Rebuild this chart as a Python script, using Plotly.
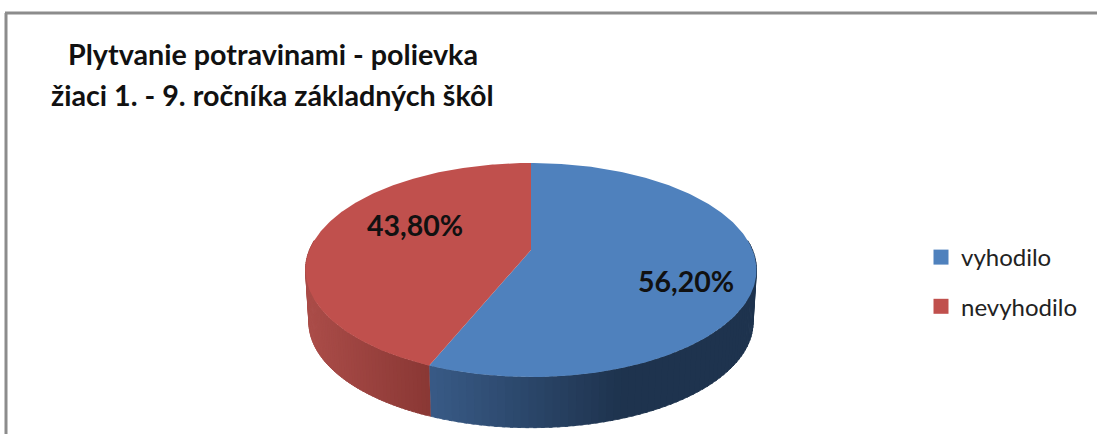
import numpy as np
import plotly.graph_objects as go

# ---- data ----
categories = ["vyhodilo", "nevyhodilo"]
values = [56.20, 43.80]
labels = ["56,20%", "43,80%"]
top_colors = ["#4F81BD", "#C0504D"]
title_lines = ["Plytvanie potravinami - polievka", "žiaci 1. - 9. ročníka základných škôl"]

# ---- projection of the tilted disc onto the 1097x434 pixel axes ----
CX, CY = 531.0, 250.0      # where the pie centre lands
SX, SY = 221.5, 103.3      # radius scale
P = 0.187                  # perspective strength
DEPTH = 52.5               # thickness of the disc
BOTTOM_SCALE = 0.985


def project(theta, depth=0.0, scale=1.0):
    """theta: clockwise angle from 12 o'clock, radians."""
    u, v = np.sin(theta), np.cos(theta)
    w = 1 + P * v
    return CX + scale * SX * u / w, CY - scale * SY * v / w + depth


def mix(a, b, t):
    a, b = np.array(a, float), np.array(b, float)
    c = a + (b - a) * np.clip(t, 0, 1)
    return "rgb(%d,%d,%d)" % tuple(c.round())


def side_color(i, x):
    if i == 0:   # blue slice darkens towards the right, quickly flat
        return mix((56, 90, 134), (30, 51, 78), (x - 430) / 190)
    return mix((170, 76, 72), (137, 55, 52), (x - 310) / 120)


fractions = np.array(values) / sum(values)
edges = np.concatenate([[0], np.cumsum(fractions)]) * 2 * np.pi

fig = go.Figure()

# visible wall: everything on the front half of the disc
for i in range(len(values)):
    lo, hi = edges[i], edges[i + 1]
    lo_v, hi_v = max(lo, np.pi * 0.47), min(hi, np.pi * 1.53)
    if hi_v <= lo_v:
        continue
    steps = np.linspace(lo_v, hi_v, 71)
    for a, b in zip(steps[:-1], steps[1:]):
        th = np.linspace(a, min(b + 0.012, hi_v), 4)
        xt, yt = project(th)
        xb, yb = project(th[::-1], DEPTH, BOTTOM_SCALE)
        color = side_color(i, xt.mean())
        fig.add_trace(go.Scatter(
            x=np.r_[xt, xb], y=np.r_[yt, yb], mode="lines", fill="toself",
            line=dict(width=0.8, color=color), fillcolor=color,
            hoverinfo="skip", showlegend=False))

# top face
for i in range(len(values)):
    th = np.linspace(edges[i], edges[i + 1], 240)
    xt, yt = project(th)
    fig.add_trace(go.Scatter(
        x=np.r_[CX, xt, CX], y=np.r_[CY, yt, CY], mode="lines", fill="toself",
        line=dict(width=0), fillcolor=top_colors[i],
        hoverinfo="skip", showlegend=False))

# legend entries
for i, name in enumerate(categories):
    fig.add_trace(go.Scatter(
        x=[None], y=[None], mode="markers", name=name, legendgroup=name,
        marker=dict(symbol="square", size=15, color=top_colors[i],
                    line=dict(width=0))))

# percentage labels
LABEL_POS = [(686, 281), (415, 225)]
for (lx, ly), text in zip(LABEL_POS, labels):
    fig.add_annotation(x=lx, y=ly, text=text, showarrow=False, xanchor="center", yanchor="middle",
                       font=dict(family="Lato", size=28.5, color="#111111", weight="bold"))

# title
for text, ty in zip(title_lines, (54, 95)):
    fig.add_annotation(x=272.5, y=ty, text=text, showarrow=False, xanchor="center", yanchor="middle",
                       font=dict(family="Lato", size=28.7, color="#111111", weight="bold"))

# chart frame
FRAME = "#8C8C8C"
fig.add_shape(type="line", x0=5, x1=1097, y0=13, y1=13, line=dict(color=FRAME, width=3), layer="below")
fig.add_shape(type="line", x0=6, x1=6, y0=13, y1=434, line=dict(color=FRAME, width=3), layer="below")

fig.update_layout(
    width=1097, height=434, autosize=False,
    margin=dict(l=0, r=0, t=0, b=0),
    paper_bgcolor="white", plot_bgcolor="white",
    xaxis=dict(range=[0, 1097], visible=False, fixedrange=True),
    yaxis=dict(range=[434, 0], visible=False, fixedrange=True),
    legend=dict(x=921 / 1097, y=1 - 235 / 434, xanchor="left", yanchor="top",
                bgcolor="rgba(0,0,0,0)", tracegroupgap=15, itemwidth=30,
                font=dict(family="Lato", size=24, color="#222222")),
)

fig.write_html("out.html", config={"displayModeBar": False},
               post_script="document.body.style.margin='0';document.body.style.overflow='hidden';")
